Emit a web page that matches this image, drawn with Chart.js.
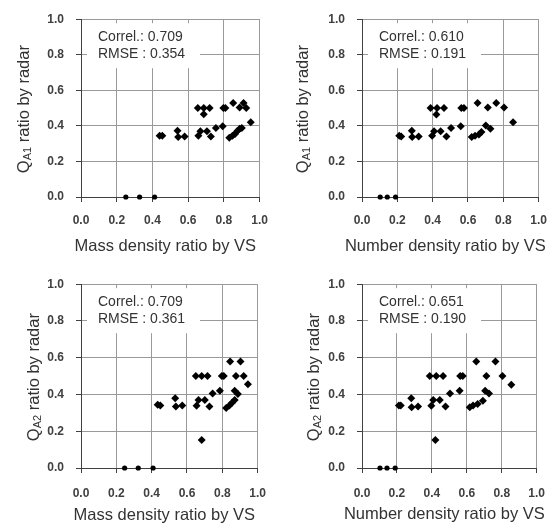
<!DOCTYPE html>
<html>
<head>
<meta charset="utf-8">
<script src="https://cdn.jsdelivr.net/npm/chart.js@4.4.1/dist/chart.umd.min.js"></script>
<style>
  body { margin: 0; background: #fff; }
  #wrap { position: relative; width: 558px; height: 531px; }
  canvas { position: absolute; }
</style>
</head>
<body>
<div id="wrap">
  <canvas id="c1" width="279" height="265" style="left:0;top:0"></canvas>
  <canvas id="c2" width="279" height="265" style="left:279px;top:0"></canvas>
  <canvas id="c3" width="279" height="266" style="left:0;top:265px"></canvas>
  <canvas id="c4" width="279" height="266" style="left:279px;top:265px"></canvas>
</div>
<script>
// one pair of arrays per panel
const massX1 = [0.654, 0.687, 0.72, 0.687, 0.797, 0.808, 0.852, 0.888, 0.91, 0.925,
  0.44, 0.455, 0.54, 0.544, 0.58, 0.657, 0.668, 0.705, 0.727, 0.755, 0.793,
  0.83, 0.848, 0.862, 0.874, 0.888, 0.9, 0.95, 0.251, 0.328, 0.412];
const qa1Mass = [0.5, 0.5, 0.5, 0.465, 0.5, 0.5, 0.529, 0.504, 0.529, 0.5,
  0.344, 0.344, 0.373, 0.337, 0.34, 0.344, 0.37, 0.37, 0.34, 0.388, 0.398,
  0.333, 0.344, 0.355, 0.37, 0.384, 0.388, 0.42, 0, 0, 0];

const numX1 = [0.388, 0.425, 0.464, 0.421, 0.562, 0.577, 0.654, 0.712, 0.76, 0.804,
  0.211, 0.222, 0.282, 0.284, 0.321, 0.397, 0.408, 0.445, 0.478, 0.504, 0.559,
  0.621, 0.64, 0.662, 0.676, 0.701, 0.727, 0.855, 0.103, 0.143, 0.19];
const qa1Num = [0.5, 0.5, 0.5, 0.464, 0.5, 0.5, 0.529, 0.504, 0.529, 0.504,
  0.344, 0.34, 0.373, 0.337, 0.34, 0.344, 0.37, 0.37, 0.34, 0.388, 0.398,
  0.337, 0.344, 0.352, 0.366, 0.402, 0.384, 0.42, 0, 0, 0];

const massX2 = [0.844, 0.903, 0.65, 0.683, 0.716, 0.797, 0.808, 0.877, 0.921, 0.945,
  0.745, 0.786, 0.87, 0.888, 0.434, 0.449, 0.533, 0.537, 0.573, 0.654, 0.665,
  0.701, 0.727, 0.822, 0.84, 0.855, 0.87, 0.683, 0.247, 0.324, 0.408];
const qa2Mass = [0.58, 0.58, 0.5, 0.5, 0.5, 0.5, 0.5, 0.5, 0.5, 0.455,
  0.406, 0.42, 0.42, 0.402, 0.344, 0.34, 0.38, 0.335, 0.34, 0.339, 0.37,
  0.37, 0.335, 0.326, 0.34, 0.355, 0.37, 0.152, 0, 0, 0];

const numX2 = [0.654, 0.764, 0.388, 0.425, 0.464, 0.562, 0.577, 0.712, 0.804, 0.855,
  0.504, 0.559, 0.705, 0.727, 0.211, 0.222, 0.282, 0.284, 0.321, 0.397, 0.408,
  0.445, 0.478, 0.617, 0.636, 0.662, 0.692, 0.42, 0.103, 0.143, 0.19];
const qa2Num = [0.58, 0.58, 0.5, 0.5, 0.5, 0.5, 0.5, 0.5, 0.5, 0.453,
  0.406, 0.42, 0.42, 0.406, 0.34, 0.34, 0.38, 0.33, 0.335, 0.339, 0.37,
  0.37, 0.335, 0.33, 0.34, 0.348, 0.366, 0.152, 0, 0, 0];

const correlText = ['Correl.: 0.709', 'Correl.: 0.610', 'Correl.: 0.709', 'Correl.: 0.651'];
const rmseText = ['RMSE : 0.354', 'RMSE : 0.191', 'RMSE : 0.361', 'RMSE : 0.190'];
const xTitles = ['Mass density ratio by VS', 'Number density ratio by VS',
  'Mass density ratio by VS', 'Number density ratio by VS'];
const ySubs = ['A1', 'A1', 'A2', 'A2'];

const FONT = '"Liberation Sans", Arial, sans-serif';

// stats box, axis titles (y title needs a subscript so it is drawn by hand)
const panelText = {
  id: 'panelText',
  beforeDatasetsDraw(chart, args, o) {
    const ctx = chart.ctx, a = chart.chartArea;
    ctx.save();
    ctx.fillStyle = '#fff';
    ctx.fillRect(a.left + 6, a.top + 4, 113, 45);
    ctx.fillStyle = '#333';
    ctx.font = '14px ' + FONT;
    ctx.textBaseline = 'middle';
    ctx.fillText(o.correl, a.left + 17, a.top + 18);
    ctx.fillText(o.rmse, a.left + 17, a.top + 35);
    ctx.restore();
  },
  afterDraw(chart, args, o) {
    const ctx = chart.ctx, a = chart.chartArea;
    ctx.save();
    ctx.fillStyle = '#333';
    ctx.textBaseline = 'middle';
    ctx.textAlign = 'center';
    ctx.font = '16.5px ' + FONT;
    ctx.fillText(o.xTitle, (a.left + a.right) / 2 - 5, o.xTitleY);

    // y title
    ctx.translate(o.yTitleX, (a.top + a.bottom) / 2 + 1);
    ctx.rotate(-Math.PI / 2);
    ctx.textAlign = 'left';
    const big = '16.5px ' + FONT, small = '11px ' + FONT;
    ctx.font = big;
    const wQ = ctx.measureText('Q').width;
    const rest = ' ratio by radar';
    const wR = ctx.measureText(rest).width;
    ctx.font = small;
    const wS = ctx.measureText(o.ySub).width;
    let sx = -(wQ + wS + wR) / 2;
    ctx.font = big;
    ctx.fillText('Q', sx, 0);
    ctx.font = small;
    ctx.fillText(o.ySub, sx + wQ, 4);
    ctx.font = big;
    ctx.fillText(rest, sx + wQ + wS, 0);
    ctx.restore();
  }
};

function axis(fitFn) {
  return {
    type: 'linear',
    min: 0,
    max: 1,
    afterFit: fitFn,
    grid: { color: '#9a9a9a', lineWidth: 1, tickLength: 5, tickColor: '#404040' },
    border: { color: '#404040', width: 1 },
    ticks: {
      stepSize: 0.2,
      color: '#404040',
      font: { family: FONT, size: 12, weight: 'bold' },
      callback: v => v.toFixed(1)
    }
  };
}

function makeChart(id, i, xs, ys, p) {
  const pts = xs.map((x, k) => ({ x: x, y: ys[k] }));
  const xAxis = axis(s => { s.height = p.xh; });
  xAxis.ticks.padding = p.xPad;
  const yAxis = axis(s => { s.width = p.yw; });
  yAxis.ticks.padding = 12;
  return new Chart(document.getElementById(id), {
    type: 'scatter',
    data: {
      datasets: [{
        data: pts,
        backgroundColor: '#000',
        borderWidth: 0,
        pointStyle: c => (c.raw && c.raw.y === 0 ? 'circle' : 'rectRot'),
        pointRadius: c => (c.raw && c.raw.y === 0 ? 2.6 : 4),
        clip: false
      }]
    },
    options: {
      responsive: false,
      animation: false,
      devicePixelRatio: 1,
      layout: { padding: { left: 0, top: p.top, right: p.right, bottom: 0 } },
      scales: { x: xAxis, y: yAxis },
      plugins: {
        legend: { display: false },
        tooltip: { enabled: false },
        panelText: {
          correl: correlText[i],
          rmse: rmseText[i],
          xTitle: xTitles[i],
          ySub: ySubs[i],
          xTitleY: p.xTitleY,
          yTitleX: p.yTitleX
        }
      }
    },
    plugins: [panelText]
  });
}

makeChart('c1', 0, massX1, qa1Mass, { top: 13, right: 16, yw: 81, xh: 68, xPad: 11, xTitleY: 246, yTitleX: 24 });
makeChart('c2', 1, numX1, qa1Num, { top: 13, right: 14, yw: 83, xh: 68, xPad: 11, xTitleY: 246, yTitleX: 24 });
makeChart('c3', 2, massX2, qa2Mass, { top: 19, right: 16, yw: 81, xh: 63, xPad: 13, xTitleY: 250, yTitleX: 34 });
makeChart('c4', 3, numX2, qa2Num, { top: 19, right: 14, yw: 83, xh: 63, xPad: 13, xTitleY: 249, yTitleX: 35 });
</script>
</body>
</html>
